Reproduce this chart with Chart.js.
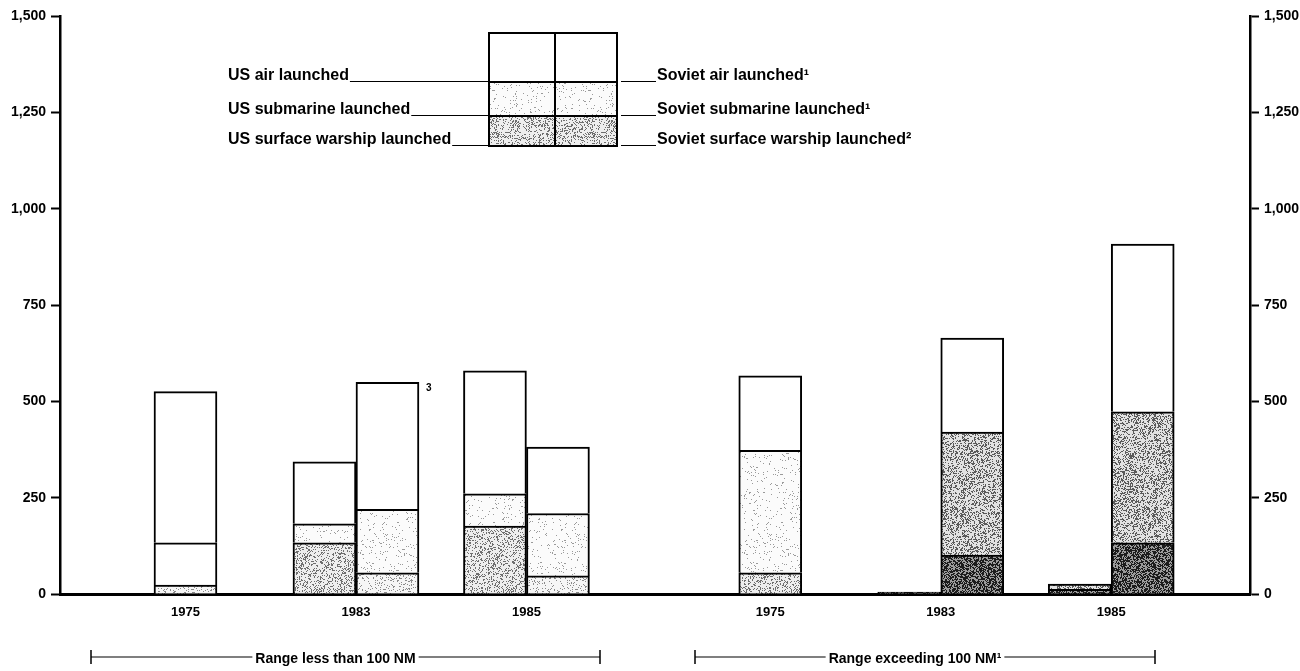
<!DOCTYPE html>
<html>
<head>
<meta charset="utf-8">
<script src="https://cdn.jsdelivr.net/npm/chart.js@4.4.0/dist/chart.umd.min.js"></script>
<style>
  html, body { margin: 0; padding: 0; background: #ffffff; }
  #wrap { width: 1300px; height: 671px; position: relative; }
</style>
</head>
<body>
<div id="wrap"><canvas id="chart"></canvas></div>
<script>
// Year categories: three for short range, three for long range
const yearLabels = ['1975', '1983', '1985', '1975', '1983', '1985'];
const rangeGroups = ['Range less than 100 NM', 'Range exceeding 100 NM\u00B9'];

// Launcher counts by platform (segments stack bottom to top: surface, submarine, air)
const usSurface    = [23, 133, 176, null, 5, 12];
const usSubmarine  = [110, 49, 84, null, null, 14];
const usAir        = [392, 161, 319, null, null, null];
const sovSurface   = [null, 55, 47, 55, 101, 133];
const sovSubmarine = [null, 165, 162, 318, 319, 340];
const sovAir       = [null, 329, 172, 193, 244, 435];

// Value axis ticks
const yTicks = [0, 250, 500, 750, 1000, 1250, 1500];

// Legend rows
const legendUS  = ['US air launched', 'US submarine launched', 'US surface warship launched'];
const legendSov = ['Soviet air launched\u00B9', 'Soviet submarine launched\u00B9', 'Soviet surface warship launched\u00B2'];

// Layout: slot index per category, with a wider gap between the two range groups
const GROUP_GAP = 3.43;
const slot = (i) => (i % 3) + Math.floor(i / 3) * GROUP_GAP;

// Stippled fills (deterministic dot texture)
function stipple(base, dot, density, seed) {
  const c = document.createElement('canvas');
  c.width = 96; c.height = 96;
  const g = c.getContext('2d');
  g.fillStyle = base; g.fillRect(0, 0, 96, 96);
  g.fillStyle = dot;
  let s = seed >>> 0;
  for (let y = 0; y < 96; y++) {
    for (let x = 0; x < 96; x++) {
      s = (Math.imul(s, 1664525) + 1013904223) >>> 0;
      if ((s >>> 8) / 16777216 < density) g.fillRect(x, y, 1, 1);
    }
  }
  return g.createPattern(c, 'repeat');
}
const WHITE  = '#ffffff';
const LIGHT  = stipple('#fbfbfb', '#9a9a9a', 0.05, 11);
const PALE   = stipple('#f6f6f6', '#8a8a8a', 0.14, 23);
const MED    = stipple('#eeeeee', '#6e6e6e', 0.26, 37);
const MEDDK  = stipple('#e2e2e2', '#5a5a5a', 0.34, 41);
const DARK   = stipple('#9c9c9c', '#1c1c1c', 0.55, 53);

const FONT = '"Liberation Sans", Arial, Helvetica, sans-serif';

function series(values) {
  return values.map((v, i) => ({ x: slot(i), y: v }));
}

const barCommon = {
  barThickness: 63,
  borderColor: '#000000',
  borderWidth: 2,
  borderSkipped: 'start',
  skipNull: true
};

const datasets = [
  { label: 'US surface warship launched', stack: 'US', data: series(usSurface),
    backgroundColor: [PALE, MED, MED, WHITE, DARK, DARK], ...barCommon },
  { label: 'US submarine launched', stack: 'US', data: series(usSubmarine),
    backgroundColor: [WHITE, LIGHT, LIGHT, WHITE, WHITE, MEDDK], ...barCommon },
  { label: 'US air launched', stack: 'US', data: series(usAir),
    backgroundColor: WHITE, ...barCommon },
  { label: 'Soviet surface warship launched', stack: 'SU', data: series(sovSurface),
    backgroundColor: [WHITE, PALE, PALE, MED, DARK, DARK], ...barCommon },
  { label: 'Soviet submarine launched', stack: 'SU', data: series(sovSubmarine),
    backgroundColor: [WHITE, LIGHT, LIGHT, LIGHT, MEDDK, MEDDK], ...barCommon },
  { label: 'Soviet air launched', stack: 'SU', data: series(sovAir),
    backgroundColor: WHITE, ...barCommon }
];

function valueAxis(position, width) {
  return {
    type: 'linear',
    position: position,
    min: 0,
    max: 1500,
    stacked: true,
    afterBuildTicks: (s) => { s.ticks = yTicks.map(v => ({ value: v })); },
    afterFit: (s) => { s.width = width; },
    ticks: {
      color: '#000000',
      padding: 5,
      font: { family: FONT, size: 14, weight: 'bold' },
      callback: (v) => v.toLocaleString('en-US')
    },
    grid: { drawOnChartArea: false, drawTicks: true, tickLength: 9, tickWidth: 2, tickColor: '#000000' },
    border: { display: true, color: '#000000', width: 2.5 }
  };
}

// Legend key, range brackets and footnote marker
const annotations = {
  id: 'annotations',
  afterDraw(chart) {
    const ctx = chart.ctx;
    ctx.save();
    ctx.strokeStyle = '#000000';
    ctx.fillStyle = '#000000';

    // Legend key grid
    const kx = [489, 555, 617];
    const ky = [33, 82, 116, 146];
    const fills = [[WHITE, LIGHT, MED], [WHITE, LIGHT, MED]];
    for (let c = 0; c < 2; c++) {
      for (let r = 0; r < 3; r++) {
        ctx.fillStyle = fills[c][r];
        ctx.fillRect(kx[c], ky[r], kx[c + 1] - kx[c], ky[r + 1] - ky[r]);
      }
    }
    ctx.lineWidth = 2;
    ctx.strokeRect(kx[0], ky[0], kx[2] - kx[0], ky[3] - ky[0]);
    ctx.beginPath();
    ctx.moveTo(kx[1], ky[0]); ctx.lineTo(kx[1], ky[3]);
    ctx.moveTo(kx[0], ky[1]); ctx.lineTo(kx[2], ky[1]);
    ctx.moveTo(kx[0], ky[2]); ctx.lineTo(kx[2], ky[2]);
    ctx.stroke();

    ctx.fillStyle = '#000000';
    ctx.font = 'bold 16px ' + FONT;
    ctx.textBaseline = 'alphabetic';
    ctx.lineWidth = 1;
    for (let r = 0; r < 3; r++) {
      const yLine = ky[r + 1] - 0.5;
      const yText = ky[r + 1] - 2;
      ctx.textAlign = 'left';
      ctx.fillText(legendUS[r], 228, yText);
      const w = ctx.measureText(legendUS[r]).width;
      ctx.beginPath();
      ctx.moveTo(228 + w + 1, yLine); ctx.lineTo(kx[0], yLine);
      ctx.moveTo(kx[2] + 4, yLine); ctx.lineTo(656, yLine);
      ctx.stroke();
      ctx.fillText(legendSov[r], 657, yText);
    }

    // Range brackets under the axis
    const brackets = [
      { from: 91, to: 600, text: rangeGroups[0] },
      { from: 695, to: 1155, text: rangeGroups[1] }
    ];
    ctx.font = 'bold 14px ' + FONT;
    ctx.textAlign = 'center';
    ctx.textBaseline = 'middle';
    const by = 657;
    brackets.forEach(b => {
      const mid = (b.from + b.to) / 2 - 10;
      const tw = ctx.measureText(b.text).width;
      ctx.lineWidth = 1.2;
      ctx.beginPath();
      ctx.moveTo(b.from, by); ctx.lineTo(mid - tw / 2 - 3, by);
      ctx.moveTo(mid + tw / 2 + 3, by); ctx.lineTo(b.to, by);
      ctx.stroke();
      ctx.lineWidth = 1.5;
      ctx.beginPath();
      ctx.moveTo(b.from, by - 7); ctx.lineTo(b.from, by + 7);
      ctx.moveTo(b.to, by - 7); ctx.lineTo(b.to, by + 7);
      ctx.stroke();
      ctx.fillText(b.text, mid, by + 2);
    });

    // Footnote 3 beside the 1983 Soviet short-range bar
    const bar = chart.getDatasetMeta(5).data[1];
    if (bar) {
      ctx.font = 'bold 10px ' + FONT;
      ctx.textAlign = 'left';
      ctx.textBaseline = 'top';
      ctx.fillText('3', bar.x + bar.width / 2 + 7, bar.y + 1);
    }
    ctx.restore();
  }
};

new Chart(document.getElementById('chart'), {
  type: 'bar',
  data: { datasets },
  options: {
    responsive: true,
    maintainAspectRatio: false,
    animation: false,
    layout: { padding: { top: 16, left: 0, right: 0, bottom: 0 } },
    plugins: { legend: { display: false }, tooltip: { enabled: false } },
    scales: {
      x: {
        type: 'linear',
        offset: false,
        min: -0.736,
        max: 6.244,
        afterBuildTicks: (s) => { s.ticks = yearLabels.map((_, i) => ({ value: slot(i) })); },
        afterFit: (s) => { s.height = 77; },
        ticks: {
          autoSkip: false,
          maxRotation: 0,
          padding: 11,
          color: '#000000',
          font: { family: FONT, size: 13, weight: 'bold' },
          callback: (v, i) => yearLabels[i]
        },
        grid: { display: false, drawTicks: false },
        border: { display: true, color: '#000000', width: 3 }
      },
      y: valueAxis('left', 60),
      y2: valueAxis('right', 50)
    }
  },
  plugins: [annotations]
});
</script>
</body>
</html>
